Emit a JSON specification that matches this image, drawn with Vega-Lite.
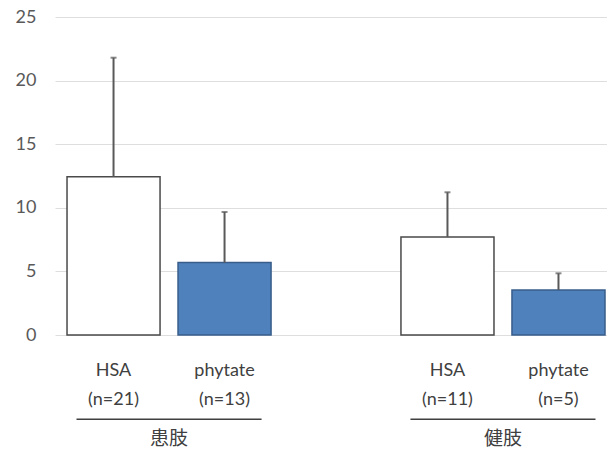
{
  "$schema": "https://vega.github.io/schema/vega-lite/v6.json",
  "autosize": "none",
  "width": 552,
  "height": 318,
  "padding": {"left": 55, "top": 17, "right": 0, "bottom": 123},
  "background": "white",
  "config": {"view": {"stroke": null}, "font": "Lato"},
  "data": {
    "values": [
      {"group": "患肢", "treatment": "HSA", "mean": 12.45, "upper": 21.8, "label": ["HSA", "(n=21)"]},
      {"group": "患肢", "treatment": "phytate", "mean": 5.69, "upper": 9.67, "label": ["phytate", "(n=13)"]},
      {"group": "健肢", "treatment": "HSA", "mean": 7.7, "upper": 11.22, "label": ["HSA", "(n=11)"]},
      {"group": "健肢", "treatment": "phytate", "mean": 3.54, "upper": 4.85, "label": ["phytate", "(n=5)"]}
    ]
  },
  "encoding": {
    "x": {
      "field": "group",
      "type": "nominal",
      "sort": ["患肢", "健肢"],
      "scale": {"domain": ["患肢", "健肢"], "paddingInner": 0.389, "paddingOuter": 0.021, "align": 0.857},
      "axis": null
    },
    "xOffset": {
      "field": "treatment",
      "type": "nominal",
      "scale": {"domain": ["HSA", "phytate"], "paddingInner": 0.162, "paddingOuter": 0}
    }
  },
  "layer": [
    {
      "mark": {"type": "bar", "strokeWidth": 1.5},
      "encoding": {
        "y": {
          "field": "mean",
          "type": "quantitative",
          "scale": {"domain": [0, 25], "nice": false},
          "axis": {
            "values": [0, 5, 10, 15, 20, 25],
            "title": null,
            "domain": false,
            "ticks": false,
            "grid": true,
            "gridColor": "#dedede",
            "gridWidth": 1,
            "labelFontSize": 18,
            "labelColor": "#595959",
            "labelPadding": 19,
            "labelFont": "Lato"
          }
        },
        "fill": {"field": "treatment", "type": "nominal", "scale": {"domain": ["HSA", "phytate"], "range": ["#FFFFFF", "#4F81BD"]}, "legend": null},
        "stroke": {"field": "treatment", "type": "nominal", "scale": {"domain": ["HSA", "phytate"], "range": ["#4a4a4a", "#385D8A"]}, "legend": null}
      }
    },
    {
      "mark": {"type": "rule", "color": "#595959", "strokeWidth": 2},
      "encoding": {
        "y": {"field": "mean", "type": "quantitative"},
        "y2": {"field": "upper"}
      }
    },
    {
      "mark": {"type": "tick", "orient": "horizontal", "color": "#595959", "size": 6, "thickness": 2},
      "encoding": {
        "y": {"field": "upper", "type": "quantitative"}
      }
    },
    {
      "mark": {"type": "text", "baseline": "top", "align": "center", "fontSize": 18, "lineHeight": 29, "color": "#404040", "font": "Lato"},
      "encoding": {
        "y": {"datum": -2.1, "type": "quantitative"},
        "text": {"field": "label"}
      }
    },
    {
      "data": {"values": [{"group": "患肢"}, {"group": "健肢"}]},
      "mark": {"type": "bar", "color": "#404040", "width": {"band": 0.907}},
      "encoding": {
        "xOffset": null,
        "y": {"datum": -6.56, "type": "quantitative"},
        "y2": {"datum": -6.68}
      }
    },
    {
      "data": {"values": [{"group": "患肢"}, {"group": "健肢"}]},
      "mark": {"type": "text", "baseline": "middle", "align": "center", "fontSize": 19, "color": "#404040", "font": "Noto Sans CJK JP"},
      "encoding": {
        "xOffset": null,
        "y": {"datum": -8.15, "type": "quantitative"},
        "text": {"field": "group"}
      }
    }
  ]
}
